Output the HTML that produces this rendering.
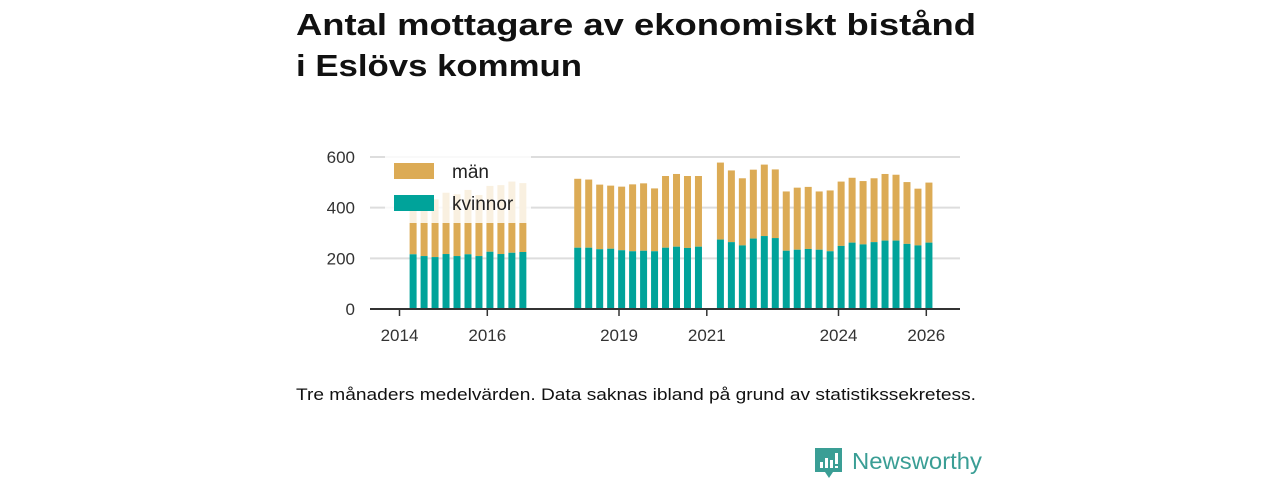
<!DOCTYPE html>
<html><head><meta charset="utf-8"><style>
html,body{margin:0;padding:0;background:#fff;width:1280px;height:480px;overflow:hidden}
svg{display:block;font-family:"Liberation Sans","DejaVu Sans",sans-serif}
</style></head><body>
<svg id="chart" width="1280" height="480" viewBox="0 0 1280 480">
<text x="296" y="35" font-size="31" font-weight="bold" fill="#111" textLength="680" lengthAdjust="spacingAndGlyphs">Antal mottagare av ekonomiskt bistånd</text>
<text x="296" y="76" font-size="31" font-weight="bold" fill="#111" textLength="286" lengthAdjust="spacingAndGlyphs">i Eslövs kommun</text>
<g id="grid"></g>
<g id="bars"></g>
<g id="axes"></g>
<g id="legend">
<rect x="385" y="155" width="146" height="68" fill="#fff" fill-opacity="0.82"/>
<rect x="394" y="163" width="40" height="16" fill="#dcab55"/>
<text x="452" y="178" font-size="19" fill="#222">män</text>
<rect x="394" y="195" width="40" height="16" fill="#00a39a"/>
<text x="452" y="210" font-size="19" fill="#222">kvinnor</text>
</g>
<text x="296" y="400" font-size="17" fill="#111" textLength="680" lengthAdjust="spacingAndGlyphs">Tre månaders medelvärden. Data saknas ibland på grund av statistikssekretess.</text>
<g>
<path d="M815 448 h27 v24 h-9 l-4 6 l-4 -6 h-10 z" fill="#3a9e95"/>
<rect x="820" y="462" width="3" height="6" fill="#fff"/><rect x="825" y="458" width="3" height="10" fill="#fff"/><rect x="830" y="460" width="3" height="8" fill="#fff"/><rect x="835" y="453" width="3" height="11" fill="#fff"/><rect x="835" y="466" width="3" height="2" fill="#fff"/>
<text x="852" y="469" font-size="23" fill="#3a9e95" textLength="130" lengthAdjust="spacingAndGlyphs">Newsworthy</text>
</g>
</svg>
<script>
const kvinnor = [216,209,205,217,209,216,209,226,217,222,225, null,null,null,null,
 242,242,236,238,232,228,230,228,242,246,241,246, null,
 274,264,251,278,288,280,230,234,237,234,228,249,262,255,264,270,270,257,251,262];
const totals = [387,393,433,459,453,470,450,486,489,503,497, null,null,null,null,
 514,511,491,487,483,492,496,476,525,533,525,525, null,
 578,547,516,550,570,551,464,479,482,464,468,503,518,505,516,533,530,501,475,499];
const yTicks = [0,200,400,600];
const xTicks = [2014,2016,2019,2021,2024,2026];
const startYear = 2014.31;
const NS = "http://www.w3.org/2000/svg";
function xs(t){return 399.5 + (t-2014)*43.9;}
function ys(v){return 309 - v*(152/600);}
function mk(tag, attrs, parent){const e=document.createElementNS(NS,tag);for(const k in attrs)e.setAttribute(k,attrs[k]);parent.appendChild(e);return e;}
const grid=document.getElementById('grid'), bars=document.getElementById('bars'), axes=document.getElementById('axes');
yTicks.forEach(v=>{
  if(v>0){const l=mk('line',{x1:370,x2:960,y1:ys(v),y2:ys(v),stroke:'#ddd','stroke-width':2},grid);
  
  }
  const t=mk('text',{x:355,y:ys(v)+6,'font-size':17,fill:'#333','text-anchor':'end'},axes);
  t.textContent=v;
  
  
});
const bw=7;
kvinnor.forEach((k,i)=>{
  if(k==null)return;
  const cx=xs(startYear+i/4);
  const tot=totals[i];
  const m=mk('rect',{x:cx-bw/2,y:ys(tot),width:bw,height:ys(k)-ys(tot),fill:'#dcab55'},bars);
  
  
  const f=mk('rect',{x:cx-bw/2,y:ys(k),width:bw,height:ys(0)-ys(k),fill:'#00a39a'},bars);
  
  
});
const base=mk('line',{x1:370,x2:960,y1:309,y2:309,stroke:'#333','stroke-width':2},axes);


xTicks.forEach(y=>{
  const x=xs(y);
  const tk=mk('line',{x1:x,x2:x,y1:309,y2:316,stroke:'#333','stroke-width':1.5},axes);
  
  
  const t=mk('text',{x:x,y:341,'font-size':17,fill:'#333','text-anchor':'middle'},axes);
  t.textContent=y;
  
  
});
</script>
</body></html>
